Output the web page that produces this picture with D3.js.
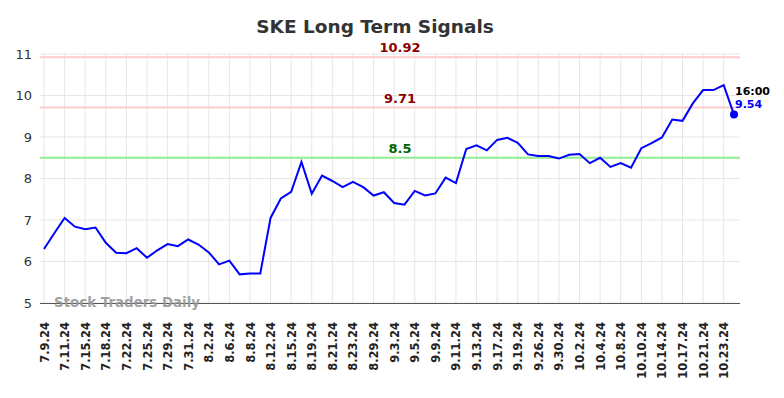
<!DOCTYPE html>
<html><head><meta charset="utf-8">
<script src="https://cdn.jsdelivr.net/npm/d3@7"></script>
<style>body{margin:0;background:#fff;}svg{display:block;font-family:"DejaVu Sans",sans-serif;}</style>
</head><body><svg id="c" width="784" height="398"></svg>
<script>
const dates = ["7.9.24","7.10.24","7.11.24","7.12.24","7.15.24","7.16.24","7.18.24","7.19.24","7.22.24","7.23.24","7.25.24","7.26.24","7.29.24","7.30.24","7.31.24","8.1.24","8.2.24","8.5.24","8.6.24","8.7.24","8.8.24","8.9.24","8.12.24","8.14.24","8.15.24","8.16.24","8.19.24","8.20.24","8.21.24","8.22.24","8.23.24","8.26.24","8.29.24","8.30.24","9.3.24","9.4.24","9.5.24","9.6.24","9.9.24","9.10.24","9.11.24","9.12.24","9.13.24","9.16.24","9.17.24","9.18.24","9.19.24","9.20.24","9.26.24","9.27.24","9.30.24","10.1.24","10.2.24","10.3.24","10.4.24","10.7.24","10.8.24","10.9.24","10.10.24","10.11.24","10.14.24","10.16.24","10.17.24","10.18.24","10.21.24","10.22.24","10.23.24","10.24.24"];
const values = [6.3,6.68,7.05,6.84,6.78,6.82,6.45,6.21,6.2,6.32,6.09,6.27,6.42,6.37,6.53,6.41,6.22,5.93,6.02,5.69,5.71,5.71,7.05,7.52,7.68,8.4,7.63,8.07,7.94,7.79,7.92,7.79,7.59,7.67,7.41,7.37,7.7,7.59,7.64,8.02,7.89,8.71,8.8,8.68,8.93,8.98,8.86,8.58,8.54,8.54,8.48,8.57,8.59,8.37,8.5,8.28,8.37,8.26,8.73,8.85,8.99,9.42,9.39,9.81,10.13,10.13,10.25,9.54];
const tickLabels = ["7.9.24","7.11.24","7.15.24","7.18.24","7.22.24","7.25.24","7.29.24","7.31.24","8.2.24","8.6.24","8.8.24","8.12.24","8.15.24","8.19.24","8.21.24","8.23.24","8.29.24","9.3.24","9.5.24","9.9.24","9.11.24","9.13.24","9.17.24","9.19.24","9.26.24","9.30.24","10.2.24","10.4.24","10.8.24","10.10.24","10.14.24","10.17.24","10.21.24","10.23.24"];
const yTicks = [5,6,7,8,9,10,11];
const levels = [
  {v:10.92, label:"10.92", line:"#ffcccc", text:"#8b0000"},
  {v:9.71, label:"9.71", line:"#ffcccc", text:"#8b0000"},
  {v:8.5, label:"8.5", line:"#90ee90", text:"#006400"}
];
const title = "SKE Long Term Signals";
const lastTime = "16:00";

const svg = d3.select("#c");
const L=40, R=740, T=53, B=303;
const x = d3.scalePoint().domain(dates).range([44, 734]);
const y = d3.scaleLinear().domain([5,11]).range([B, 54]);

// grid
const g = svg.append("g");
g.selectAll("line.h").data(yTicks).enter().append("line")
  .attr("x1",L).attr("x2",R).attr("y1",d=>y(d)).attr("y2",d=>y(d))
  .attr("stroke","#e6e6e6").attr("stroke-width",1);
g.selectAll("line.v").data(tickLabels).enter().append("line")
  .attr("x1",d=>x(d)).attr("x2",d=>x(d)).attr("y1",T).attr("y2",B)
  .attr("stroke","#e6e6e6").attr("stroke-width",1);

// y axis labels
const ya = svg.append("g").attr("transform",`translate(${L},0)`)
  .call(d3.axisLeft(y).tickValues(yTicks).tickSize(0).tickPadding(8).tickFormat(d3.format("d")));
ya.select(".domain").remove();
ya.selectAll("text").attr("font-size",13).attr("fill","#333").attr("font-family","DejaVu Sans, sans-serif");

// x axis
const xa = svg.append("g").attr("transform",`translate(0,${B})`)
  .call(d3.axisBottom(x).tickValues(tickLabels).tickSize(0).tickPadding(0));
xa.select(".domain").attr("d",`M${L},0.5H${R}`).attr("stroke","#555").attr("stroke-width",1.2);
xa.selectAll("text").attr("transform","rotate(-90)").attr("text-anchor","end")
  .attr("x",-19).attr("y",0).attr("dy","0.35em")
  .attr("font-size",11.5).attr("font-weight","bold").attr("fill","#222")
  .attr("font-family","DejaVu Sans, sans-serif");

// levels
levels.forEach(l=>{
  svg.append("line").attr("x1",L).attr("x2",R).attr("y1",y(l.v)).attr("y2",y(l.v))
    .attr("stroke",l.line).attr("stroke-width",2);
  svg.append("text").attr("x",400).attr("y",y(l.v)-5).attr("text-anchor","middle")
    .attr("font-size",13).attr("font-weight","bold").attr("fill",l.text).text(l.label);
});

// watermark
svg.append("text").attr("x",54).attr("y",307).attr("font-size",13.4).attr("font-weight","bold")
  .attr("fill","#999").attr("opacity",0.9).text("Stock Traders Daily");

// line
svg.append("path").datum(values.map((v,i)=>[dates[i],v]))
  .attr("fill","none").attr("stroke","#0000ff").attr("stroke-width",2)
  .attr("d",d3.line().x(d=>x(d[0])).y(d=>y(d[1])));

const lastD = dates[dates.length-1], lastV = values[values.length-1];
svg.append("circle").attr("cx",x(lastD)).attr("cy",y(lastV)).attr("r",4).attr("fill","#0000ff");
svg.append("text").attr("x",x(lastD)+1).attr("y",y(lastV)-20).attr("font-size",11).attr("font-weight","bold")
  .attr("fill","#000").text(lastTime);
svg.append("text").attr("x",x(lastD)+1).attr("y",y(lastV)-7).attr("font-size",11).attr("font-weight","bold")
  .attr("fill","#0000ff").text(lastV.toFixed(2));

// title
svg.append("text").attr("x",375).attr("y",33).attr("text-anchor","middle")
  .attr("font-size",18.5).attr("font-weight","bold").attr("fill","#333").text(title);
</script></body></html>
